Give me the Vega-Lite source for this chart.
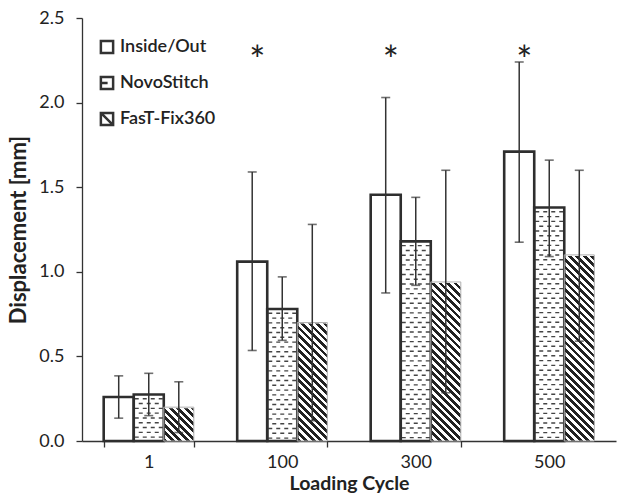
{
  "$schema": "https://vega.github.io/schema/vega-lite/v6.json",
  "width": 534,
  "height": 423,
  "autosize": {"type": "none"},
  "padding": {"left": 82, "top": 18, "right": 7, "bottom": 61},
  "background": "white",
  "data": {
    "values": [
      {"cycle": "1", "method": "Inside/Out", "mean": 0.26, "lo": 0.135, "hi": 0.385, "sig": ""},
      {"cycle": "1", "method": "NovoStitch", "mean": 0.275, "lo": 0.15, "hi": 0.40, "sig": ""},
      {"cycle": "1", "method": "FasT-Fix360", "mean": 0.20, "lo": 0.05, "hi": 0.35, "sig": ""},
      {"cycle": "100", "method": "Inside/Out", "mean": 1.06, "lo": 0.535, "hi": 1.59, "sig": "*"},
      {"cycle": "100", "method": "NovoStitch", "mean": 0.78, "lo": 0.595, "hi": 0.97, "sig": ""},
      {"cycle": "100", "method": "FasT-Fix360", "mean": 0.70, "lo": 0.12, "hi": 1.28, "sig": ""},
      {"cycle": "300", "method": "Inside/Out", "mean": 1.455, "lo": 0.875, "hi": 2.03, "sig": "*"},
      {"cycle": "300", "method": "NovoStitch", "mean": 1.18, "lo": 0.92, "hi": 1.44, "sig": ""},
      {"cycle": "300", "method": "FasT-Fix360", "mean": 0.94, "lo": 0.285, "hi": 1.60, "sig": ""},
      {"cycle": "500", "method": "Inside/Out", "mean": 1.71, "lo": 1.175, "hi": 2.24, "sig": "*"},
      {"cycle": "500", "method": "NovoStitch", "mean": 1.38, "lo": 1.09, "hi": 1.66, "sig": ""},
      {"cycle": "500", "method": "FasT-Fix360", "mean": 1.10, "lo": 0.59, "hi": 1.60, "sig": ""}
    ]
  },
  "encoding": {
    "x": {"field": "cycle", "type": "nominal", "sort": ["1", "100", "300", "500"],
      "scale": {"paddingInner": 0.325, "paddingOuter": 0.1625},
      "axis": {"title": "Loading Cycle", "labelAngle": 0, "tickBand": "extent",
        "tickOpacity": {"condition": {"test": "datum.value === '500'", "value": 0}, "value": 1}}}
  },
  "layer": [
    {
      "transform": [{"filter": "datum.method !== 'FasT-Fix360'"}],
      "mark": {"type": "bar", "fill": "white", "strokeWidth": 0},
      "encoding": {
        "xOffset": {"field": "method", "type": "nominal", "scale": {"domain": ["Inside/Out", "NovoStitch", "FasT-Fix360"], "paddingInner": 0, "paddingOuter": 0}},
        "y": {"field": "mean", "type": "quantitative", "scale": {"domain": [0, 2.5], "nice": false},
          "axis": {"title": "Displacement [mm]", "values": [0, 0.5, 1, 1.5, 2, 2.5], "format": ".1f"}}
      }
    },
    {
      "transform": [{"filter": "datum.method === 'FasT-Fix360'"}],
      "mark": {"type": "bar", "strokeWidth": 0, "fill": {"gradient": "linear", "x1": 0, "y1": 1, "x2": 0.1662, "y2": -0.1234, "stops": [
        {"offset": 0, "color": "#222"},
        {"offset": 0.0161, "color": "#222"}, {"offset": 0.0161, "color": "#fff"},
        {"offset": 0.0323, "color": "#fff"}, {"offset": 0.0323, "color": "#222"},
        {"offset": 0.0484, "color": "#222"}, {"offset": 0.0484, "color": "#fff"},
        {"offset": 0.0645, "color": "#fff"}, {"offset": 0.0645, "color": "#222"},
        {"offset": 0.0806, "color": "#222"}, {"offset": 0.0806, "color": "#fff"},
        {"offset": 0.0968, "color": "#fff"}, {"offset": 0.0968, "color": "#222"},
        {"offset": 0.1129, "color": "#222"}, {"offset": 0.1129, "color": "#fff"},
        {"offset": 0.129, "color": "#fff"}, {"offset": 0.129, "color": "#222"},
        {"offset": 0.1452, "color": "#222"}, {"offset": 0.1452, "color": "#fff"},
        {"offset": 0.1613, "color": "#fff"}, {"offset": 0.1613, "color": "#222"},
        {"offset": 0.1774, "color": "#222"}, {"offset": 0.1774, "color": "#fff"},
        {"offset": 0.1935, "color": "#fff"}, {"offset": 0.1935, "color": "#222"},
        {"offset": 0.2097, "color": "#222"}, {"offset": 0.2097, "color": "#fff"},
        {"offset": 0.2258, "color": "#fff"}, {"offset": 0.2258, "color": "#222"},
        {"offset": 0.2419, "color": "#222"}, {"offset": 0.2419, "color": "#fff"},
        {"offset": 0.2581, "color": "#fff"}, {"offset": 0.2581, "color": "#222"},
        {"offset": 0.2742, "color": "#222"}, {"offset": 0.2742, "color": "#fff"},
        {"offset": 0.2903, "color": "#fff"}, {"offset": 0.2903, "color": "#222"},
        {"offset": 0.3065, "color": "#222"}, {"offset": 0.3065, "color": "#fff"},
        {"offset": 0.3226, "color": "#fff"}, {"offset": 0.3226, "color": "#222"},
        {"offset": 0.3387, "color": "#222"}, {"offset": 0.3387, "color": "#fff"},
        {"offset": 0.3548, "color": "#fff"}, {"offset": 0.3548, "color": "#222"},
        {"offset": 0.371, "color": "#222"}, {"offset": 0.371, "color": "#fff"},
        {"offset": 0.3871, "color": "#fff"}, {"offset": 0.3871, "color": "#222"},
        {"offset": 0.4032, "color": "#222"}, {"offset": 0.4032, "color": "#fff"},
        {"offset": 0.4194, "color": "#fff"}, {"offset": 0.4194, "color": "#222"},
        {"offset": 0.4355, "color": "#222"}, {"offset": 0.4355, "color": "#fff"},
        {"offset": 0.4516, "color": "#fff"}, {"offset": 0.4516, "color": "#222"},
        {"offset": 0.4677, "color": "#222"}, {"offset": 0.4677, "color": "#fff"},
        {"offset": 0.4839, "color": "#fff"}, {"offset": 0.4839, "color": "#222"},
        {"offset": 0.5, "color": "#222"}, {"offset": 0.5, "color": "#fff"},
        {"offset": 0.5161, "color": "#fff"}, {"offset": 0.5161, "color": "#222"},
        {"offset": 0.5323, "color": "#222"}, {"offset": 0.5323, "color": "#fff"},
        {"offset": 0.5484, "color": "#fff"}, {"offset": 0.5484, "color": "#222"},
        {"offset": 0.5645, "color": "#222"}, {"offset": 0.5645, "color": "#fff"},
        {"offset": 0.5806, "color": "#fff"}, {"offset": 0.5806, "color": "#222"},
        {"offset": 0.5968, "color": "#222"}, {"offset": 0.5968, "color": "#fff"},
        {"offset": 0.6129, "color": "#fff"}, {"offset": 0.6129, "color": "#222"},
        {"offset": 0.629, "color": "#222"}, {"offset": 0.629, "color": "#fff"},
        {"offset": 0.6452, "color": "#fff"}, {"offset": 0.6452, "color": "#222"},
        {"offset": 0.6613, "color": "#222"}, {"offset": 0.6613, "color": "#fff"},
        {"offset": 0.6774, "color": "#fff"}, {"offset": 0.6774, "color": "#222"},
        {"offset": 0.6935, "color": "#222"}, {"offset": 0.6935, "color": "#fff"},
        {"offset": 0.7097, "color": "#fff"}, {"offset": 0.7097, "color": "#222"},
        {"offset": 0.7258, "color": "#222"}, {"offset": 0.7258, "color": "#fff"},
        {"offset": 0.7419, "color": "#fff"}, {"offset": 0.7419, "color": "#222"},
        {"offset": 0.7581, "color": "#222"}, {"offset": 0.7581, "color": "#fff"},
        {"offset": 0.7742, "color": "#fff"}, {"offset": 0.7742, "color": "#222"},
        {"offset": 0.7903, "color": "#222"}, {"offset": 0.7903, "color": "#fff"},
        {"offset": 0.8065, "color": "#fff"}, {"offset": 0.8065, "color": "#222"},
        {"offset": 0.8226, "color": "#222"}, {"offset": 0.8226, "color": "#fff"},
        {"offset": 0.8387, "color": "#fff"}, {"offset": 0.8387, "color": "#222"},
        {"offset": 0.8548, "color": "#222"}, {"offset": 0.8548, "color": "#fff"},
        {"offset": 0.871, "color": "#fff"}, {"offset": 0.871, "color": "#222"},
        {"offset": 0.8871, "color": "#222"}, {"offset": 0.8871, "color": "#fff"},
        {"offset": 0.9032, "color": "#fff"}, {"offset": 0.9032, "color": "#222"},
        {"offset": 0.9194, "color": "#222"}, {"offset": 0.9194, "color": "#fff"},
        {"offset": 0.9355, "color": "#fff"}, {"offset": 0.9355, "color": "#222"},
        {"offset": 0.9516, "color": "#222"}, {"offset": 0.9516, "color": "#fff"},
        {"offset": 0.9677, "color": "#fff"}, {"offset": 0.9677, "color": "#222"},
        {"offset": 0.9839, "color": "#222"}, {"offset": 0.9839, "color": "#fff"},
        {"offset": 1, "color": "#fff"}
      ]}},
      "encoding": {
        "xOffset": {"field": "method", "type": "nominal", "scale": {"domain": ["Inside/Out", "NovoStitch", "FasT-Fix360"]}},
        "y": {"datum": 1.2, "type": "quantitative", "title": "Displacement [mm]"}
      }
    },
    {
      "transform": [{"filter": "datum.method === 'FasT-Fix360'"}],
      "mark": {"type": "bar", "fill": "white", "stroke": "white", "strokeWidth": 2},
      "encoding": {
        "xOffset": {"field": "method", "type": "nominal", "scale": {"domain": ["Inside/Out", "NovoStitch", "FasT-Fix360"]}},
        "y": {"field": "mean", "type": "quantitative", "title": "Displacement [mm]"},
        "y2": {"datum": 1.2}
      }
    },
    {
      "transform": [{"filter": "datum.method === 'NovoStitch'"}],
      "mark": {"type": "rule", "strokeWidth": 4, "strokeDash": [1.4, 8.2], "strokeDashOffset": 6, "color": "#444"},
      "encoding": {"x": {"field": "cycle", "type": "nominal", "bandPosition": 0.3668},
        "y": {"field": "mean", "type": "quantitative", "title": "Displacement [mm]"}, "y2": {"datum": 0}}
    },
    {
      "transform": [{"filter": "datum.method === 'NovoStitch'"}],
      "mark": {"type": "rule", "strokeWidth": 4, "strokeDash": [1.4, 8.2], "strokeDashOffset": 6, "color": "#444"},
      "encoding": {"x": {"field": "cycle", "type": "nominal", "bandPosition": 0.4556},
        "y": {"field": "mean", "type": "quantitative", "title": "Displacement [mm]"}, "y2": {"datum": 0}}
    },
    {
      "transform": [{"filter": "datum.method === 'NovoStitch'"}],
      "mark": {"type": "rule", "strokeWidth": 4, "strokeDash": [1.4, 8.2], "strokeDashOffset": 6, "color": "#444"},
      "encoding": {"x": {"field": "cycle", "type": "nominal", "bandPosition": 0.5444},
        "y": {"field": "mean", "type": "quantitative", "title": "Displacement [mm]"}, "y2": {"datum": 0}}
    },
    {
      "transform": [{"filter": "datum.method === 'NovoStitch'"}],
      "mark": {"type": "rule", "strokeWidth": 4, "strokeDash": [1.4, 8.2], "strokeDashOffset": 6, "color": "#444"},
      "encoding": {"x": {"field": "cycle", "type": "nominal", "bandPosition": 0.6332},
        "y": {"field": "mean", "type": "quantitative", "title": "Displacement [mm]"}, "y2": {"datum": 0}}
    },
    {
      "transform": [{"filter": "datum.method === 'NovoStitch'"}],
      "mark": {"type": "rule", "strokeWidth": 4, "strokeDash": [1.4, 8.2], "strokeDashOffset": 1.2, "color": "#444"},
      "encoding": {"x": {"field": "cycle", "type": "nominal", "bandPosition": 0.4112},
        "y": {"field": "mean", "type": "quantitative", "title": "Displacement [mm]"}, "y2": {"datum": 0}}
    },
    {
      "transform": [{"filter": "datum.method === 'NovoStitch'"}],
      "mark": {"type": "rule", "strokeWidth": 4, "strokeDash": [1.4, 8.2], "strokeDashOffset": 1.2, "color": "#444"},
      "encoding": {"x": {"field": "cycle", "type": "nominal", "bandPosition": 0.5},
        "y": {"field": "mean", "type": "quantitative", "title": "Displacement [mm]"}, "y2": {"datum": 0}}
    },
    {
      "transform": [{"filter": "datum.method === 'NovoStitch'"}],
      "mark": {"type": "rule", "strokeWidth": 4, "strokeDash": [1.4, 8.2], "strokeDashOffset": 1.2, "color": "#444"},
      "encoding": {"x": {"field": "cycle", "type": "nominal", "bandPosition": 0.5888},
        "y": {"field": "mean", "type": "quantitative", "title": "Displacement [mm]"}, "y2": {"datum": 0}}
    },
    {
      "mark": {"type": "bar", "fill": "transparent"},
      "encoding": {
        "xOffset": {"field": "method", "type": "nominal", "scale": {"domain": ["Inside/Out", "NovoStitch", "FasT-Fix360"]}},
        "y": {"field": "mean", "type": "quantitative", "title": "Displacement [mm]"},
        "stroke": {"condition": {"test": "datum.method === 'FasT-Fix360'", "value": "#b0b0b0"}, "value": "#2e2e2e"},
        "strokeWidth": {"condition": {"test": "datum.method === 'FasT-Fix360'", "value": 1}, "value": 2.6}
      }
    },
    {
      "mark": {"type": "rule", "color": "#333", "strokeWidth": 1.5},
      "encoding": {
        "xOffset": {"field": "method", "type": "nominal", "scale": {"domain": ["Inside/Out", "NovoStitch", "FasT-Fix360"]}},
        "y": {"field": "lo", "type": "quantitative", "title": "Displacement [mm]"},
        "y2": {"field": "hi"}
      }
    },
    {
      "mark": {"type": "tick", "color": "#333", "size": 9, "thickness": 1.6},
      "encoding": {
        "xOffset": {"field": "method", "type": "nominal", "scale": {"domain": ["Inside/Out", "NovoStitch", "FasT-Fix360"]}},
        "y": {"field": "lo", "type": "quantitative", "title": "Displacement [mm]"}}
    },
    {
      "mark": {"type": "tick", "color": "#333", "size": 9, "thickness": 1.6},
      "encoding": {
        "xOffset": {"field": "method", "type": "nominal", "scale": {"domain": ["Inside/Out", "NovoStitch", "FasT-Fix360"]}},
        "y": {"field": "hi", "type": "quantitative", "title": "Displacement [mm]"}}
    },
    {
      "transform": [{"filter": "datum.sig === '*'"}],
      "mark": {"type": "text", "font": "Lato", "fontSize": 38, "color": "#222", "dx": 5, "baseline": "alphabetic"},
      "encoding": {
        "xOffset": {"field": "method", "type": "nominal", "scale": {"domain": ["Inside/Out", "NovoStitch", "FasT-Fix360"]}},
        "y": {"datum": 2.17, "type": "quantitative", "title": "Displacement [mm]"},
        "text": {"field": "sig"}
      }
    },
    {
      "mark": {"type": "point", "opacity": 0},
      "encoding": {
        "xOffset": {"field": "method", "type": "nominal", "scale": {"domain": ["Inside/Out", "NovoStitch", "FasT-Fix360"]}},
        "y": {"field": "mean", "type": "quantitative", "title": "Displacement [mm]"},
        "shape": {"field": "method", "type": "nominal",
          "scale": {"domain": ["Inside/Out", "NovoStitch", "FasT-Fix360"],
            "range": ["M-1,-1H1V1H-1Z", "M-1,-1H1V1H-1Z M-1,0H0.1", "M-1,-1H1V1H-1Z M-1,-1L1,1"]},
          "legend": {"title": null, "orient": "none", "legendX": 16, "legendY": 20, "direction": "vertical"}}
      }
    }
  ],
  "config": {
    "view": {"stroke": null},
    "font": "Lato",
    "axis": {"grid": false, "domainColor": "#333", "tickColor": "#333", "domainWidth": 1.3, "tickWidth": 1.3,
      "labelFont": "Lato", "labelFontSize": 18, "labelColor": "#222",
      "titleFont": "Lato", "titleFontWeight": "bold", "titleColor": "#222"},
    "axisY": {"tickSize": 6, "labelPadding": 12, "titleFontSize": 22, "titlePadding": 8},
    "axisX": {"tickSize": 6, "labelPadding": 6, "titleFontSize": 19.5, "titlePadding": 3},
    "legend": {"symbolSize": 150, "symbolStrokeWidth": 2.5, "symbolStrokeColor": "#333", "symbolFillColor": "#fff",
      "symbolOpacity": 1, "labelFont": "Lato", "labelFontSize": 18, "labelFontWeight": 600, "labelColor": "#222",
      "rowPadding": 12, "labelOffset": 4, "padding": 0}
  }
}
